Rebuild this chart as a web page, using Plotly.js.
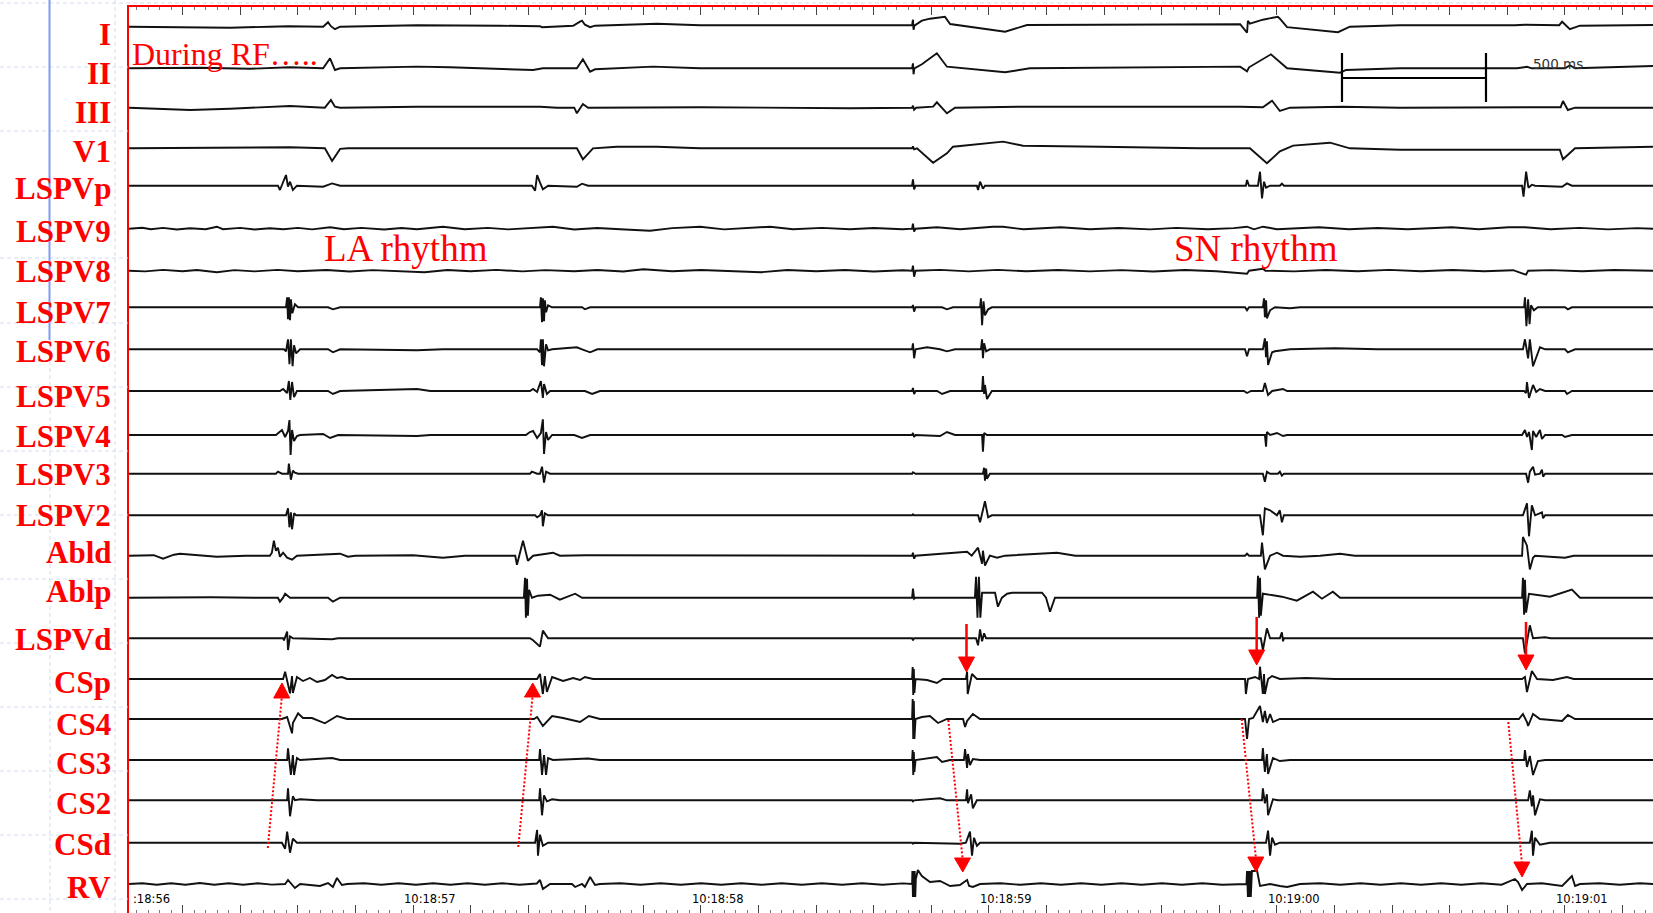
<!DOCTYPE html>
<html><head><meta charset="utf-8">
<script src="https://cdn.plot.ly/plotly-3.0.1.min.js"></script>
<style>html,body{margin:0;padding:0;background:#fff;overflow:hidden}#chart{width:1653px;height:913px}</style>
</head><body><div id="chart"></div>
<script>
// ---------------- DATA (time in s after 10:18:56, amplitude in display units) ----------------
const channelNames = ["I","II","III","V1","LSPVp","LSPV9","LSPV8","LSPV7","LSPV6","LSPV5","LSPV4","LSPV3","LSPV2","Abld","Ablp","LSPVd","CSp","CS4","CS3","CS2","CSd","RV"];

const sig_I = [0.014,0, 0.226,-0.5, 0.365,-1, 0.503,0, 0.566,0.5, 0.688,0, 0.705,4.5, 0.715,0.5, 0.729,-2.5, 0.747,0, 1.014,1.5, 1.302,1, 1.441,0.5, 1.448,-0.5, 1.556,1, 1.580,5, 1.587,6, 1.597,2, 1.615,-0.5, 1.632,1, 1.847,3, 1.997,1.5, 2.517,1.5, 2.733,1.5, 2.736,7, 2.738,-3, 2.741,1, 2.767,6, 2.795,8, 2.847,10, 2.865,2.7, 3.056,-5, 3.132,1.7, 3.385,2, 3.872,2.5, 3.896,-6, 3.899,6, 3.906,3, 3.951,7, 4.003,10, 4.010,8, 4.035,-0.5, 4.212,-5.5, 4.253,0, 4.427,1.5, 4.826,1.5, 4.861,2, 4.980,1.5, 4.990,5, 5.017,-2.5, 5.052,1, 5.306,1.7];
const sig_II = [0.014,0, 0.260,0.5, 0.434,-0.5, 0.573,1, 0.688,0, 0.712,10, 0.729,-1.7, 0.747,0, 1.014,1.7, 1.128,1, 1.417,-1.7, 1.451,0, 1.569,0, 1.590,9, 1.615,-3.4, 1.632,-1, 1.833,1.7, 1.997,0, 2.517,0, 2.733,0, 2.736,5, 2.738,-6, 2.741,0, 2.767,4, 2.819,15, 2.854,1.6, 3.056,-4, 3.142,0, 3.872,1.7, 3.896,-3, 3.903,1, 3.979,14, 4.035,0, 4.219,-4.4, 4.240,-1.7, 4.427,0, 4.833,0, 4.868,1.5, 4.885,0, 5.000,0, 5.017,3, 5.035,0, 5.306,2.3];
const sig_III = [0.014,0, 0.226,-2.3, 0.365,-1, 0.573,1.7, 0.694,0, 0.715,7.7, 0.729,1, 0.747,0, 1.014,1, 1.441,1, 1.500,0, 1.560,0, 1.569,-5.6, 1.590,3.7, 1.608,0, 1.997,0.5, 2.517,-0.6, 2.733,0, 2.736,2, 2.740,-2, 2.747,0, 2.806,1, 2.819,5.4, 2.854,-5.6, 2.882,0, 3.118,1, 3.872,1, 3.951,0.5, 3.983,7, 4.010,-3.3, 4.045,0, 4.226,1, 4.427,0, 4.868,0.5, 4.985,0.5, 4.993,6.7, 5.010,-2.3, 5.035,0, 5.306,0];
const sig_V1 = [0.014,0, 0.365,0.5, 0.573,1, 0.694,0, 0.719,-12.7, 0.747,-0.6, 0.774,0, 1.441,0, 1.569,0, 1.590,-11, 1.625,0, 1.708,1.6, 1.847,1.6, 1.997,0, 2.733,0, 2.736,2, 2.740,-1, 2.750,0, 2.806,-14.4, 2.854,-5, 2.875,1.6, 3.049,6.7, 3.118,2.6, 3.385,1.6, 3.733,0, 3.906,0, 3.965,-15, 4.010,-3, 4.056,2.7, 4.184,5.6, 4.253,0, 4.427,-1.5, 4.826,-1.6, 4.868,-1, 4.982,-1.5, 4.993,-11, 5.035,0, 5.306,1.6];
const sig_LSPVp = [0.014,0, 0.434,0, 0.531,0, 0.538,-4.3, 0.559,10.7, 0.566,-1, 0.573,4, 0.583,-4.3, 0.597,0, 0.688,-1, 0.719,2.3, 0.747,0, 1.413,0, 1.424,-5, 1.431,10.7, 1.441,3, 1.451,-3.6, 1.469,0, 1.569,-1, 1.587,2, 1.608,0, 2.733,0, 2.736,6.4, 2.740,-3.6, 2.745,0, 2.958,0, 2.962,-4.3, 2.969,4, 2.979,-3, 2.986,0, 3.872,0, 3.892,0, 3.896,5.7, 3.903,0, 3.934,0, 3.941,14, 3.948,-12.7, 3.955,4, 3.962,-2, 3.976,0, 4.010,0, 4.017,2, 4.024,0, 4.851,0, 4.856,-11, 4.865,14, 4.873,-2, 4.885,1, 4.896,0, 4.990,-1, 5.007,2.3, 5.024,0, 5.306,0];
const sig_LSPV9 = [0.014,0, 0.060,1, 0.090,-0.5, 0.132,0.8, 0.180,-0.8, 0.226,0.5, 0.280,-0.5, 0.319,2, 0.340,-0.5, 0.400,0.8, 0.450,-0.8, 0.503,0.5, 0.550,-0.5, 0.600,0.8, 0.650,-0.7, 0.712,1.5, 0.760,-0.6, 0.820,0.8, 0.900,-0.8, 0.960,0.7, 1.014,-0.5, 1.104,2, 1.180,-0.6, 1.260,0.8, 1.330,-0.7, 1.400,0.6, 1.486,2, 1.560,-0.8, 1.640,0.7, 1.720,-0.6, 1.823,-2, 1.900,0.6, 1.997,2, 2.080,-0.7, 2.150,0.8, 2.240,2, 2.320,-0.6, 2.420,0.8, 2.517,-0.6, 2.600,0.7, 2.700,-0.5, 2.733,0, 2.736,5, 2.740,-3, 2.745,0, 2.819,1.5, 2.900,-0.6, 3.014,2, 3.049,2, 3.120,-0.6, 3.250,1.5, 3.350,-0.6, 3.450,0.7, 3.560,-0.7, 3.650,0.8, 3.760,-0.6, 3.850,0.6, 3.896,2, 3.920,-0.6, 3.951,2, 4.000,-0.5, 4.146,1.5, 4.250,-0.6, 4.350,0.7, 4.454,-0.6, 4.607,1.5, 4.700,-0.6, 4.804,1.5, 4.861,1.5, 4.950,-0.6, 5.050,0.8, 5.150,-0.7, 5.250,0.6, 5.306,0];
const sig_LSPV8 = [0.014,0, 0.070,-0.7, 0.132,0.8, 0.200,-0.6, 0.250,0.7, 0.319,-1.5, 0.380,0.6, 0.450,-0.7, 0.530,0.8, 0.600,-0.6, 0.700,0.7, 0.780,-0.8, 0.860,0.6, 0.950,-0.6, 1.040,-1.5, 1.120,0.7, 1.200,-0.6, 1.290,0.8, 1.380,-0.7, 1.460,0.6, 1.560,-0.6, 1.640,0.7, 1.730,-0.8, 1.800,1.5, 1.900,-0.6, 2.000,0.7, 2.100,-0.6, 2.209,-1.5, 2.300,0.7, 2.400,-0.6, 2.500,0.7, 2.600,-0.8, 2.700,0.5, 2.733,0, 2.736,5, 2.740,-6, 2.745,0, 2.830,0.8, 2.930,-0.7, 3.030,0.8, 3.130,-0.6, 3.240,0.7, 3.350,-0.7, 3.460,0.6, 3.570,-0.8, 3.680,0.7, 3.790,-0.6, 3.896,-3, 3.903,0, 3.951,2, 3.960,0, 4.060,-0.7, 4.170,0.7, 4.280,-0.6, 4.390,0.8, 4.500,-0.6, 4.610,0.7, 4.720,-0.6, 4.820,0.5, 4.865,-4, 4.872,0, 4.950,0.6, 5.060,-0.6, 5.170,0.7, 5.306,0];
const sig_LSPV7 = [0.014,0, 0.434,0, 0.559,0, 0.563,10, 0.566,-12, 0.569,10, 0.573,-13, 0.576,8, 0.581,-6, 0.590,3, 0.601,0, 0.705,0, 0.722,-2, 0.747,0, 1.441,0, 1.444,10, 1.448,-15, 1.451,9, 1.455,-14, 1.458,7, 1.462,-5, 1.469,2, 1.483,0, 1.587,0, 1.597,-2, 1.615,0, 2.733,0, 2.736,2.3, 2.740,-4.3, 2.745,0, 2.837,0, 2.854,-2, 2.875,0, 2.969,0, 2.972,9, 2.976,-18, 2.981,6, 2.986,-8, 2.997,-2, 3.010,0, 3.889,0, 3.896,-3, 3.903,0, 3.951,0, 3.955,9, 3.958,-10, 3.962,7, 3.965,-11, 3.976,-3, 3.993,0, 4.045,-1, 4.080,0, 4.858,0, 4.861,10, 4.866,-19, 4.872,8, 4.877,-17, 4.882,2, 4.892,-3, 4.906,0, 5.000,0, 5.010,-2, 5.024,0, 5.306,0];
const sig_LSPV6 = [0.014,0, 0.300,0.5, 0.434,0, 0.552,0, 0.559,-2, 0.566,10, 0.571,-15, 0.576,10, 0.582,-17, 0.587,4, 0.594,-4, 0.608,0, 0.705,0, 0.722,-3, 0.747,0, 1.014,-1, 1.104,0, 1.431,0, 1.441,-3, 1.444,10, 1.448,-16, 1.451,10, 1.455,-17, 1.462,5, 1.469,-1, 1.483,0, 1.569,2, 1.587,0, 1.615,-3, 1.640,0, 2.733,0, 2.736,6, 2.740,-9, 2.745,0, 2.785,2, 2.830,0, 2.854,-2, 2.882,0, 2.972,0, 2.976,10, 2.979,-9, 2.983,6, 2.990,-2, 3.003,0, 3.889,0, 3.896,-7, 3.903,0, 3.951,0, 3.958,11, 3.962,-8, 3.965,8, 3.969,-15.7, 3.983,-3, 3.993,-2, 4.045,0, 4.200,1, 4.350,0, 4.854,0, 4.861,10, 4.872,-9, 4.878,10, 4.889,-17, 4.913,2, 4.931,0, 5.000,0, 5.010,-3, 5.035,0, 5.306,0];
const sig_LSPV5 = [0.014,0, 0.400,0.5, 0.538,0, 0.549,2, 0.563,-2, 0.569,10, 0.574,-9, 0.580,9, 0.587,-6, 0.597,0, 0.705,0, 0.722,-3, 0.747,0, 1.014,2, 1.060,0, 1.406,0, 1.417,2, 1.431,-1, 1.444,10, 1.451,-7, 1.455,7, 1.465,-3, 1.476,0, 1.597,0, 1.622,-3, 1.649,0, 2.733,0, 2.736,3, 2.740,-3, 2.745,0, 2.820,0, 2.837,-3, 2.865,0, 2.976,0, 2.979,15, 2.983,-3, 2.986,6, 2.993,-8, 3.010,0, 3.885,0, 3.896,-2, 3.910,0, 3.951,0, 3.958,8, 3.969,-4, 3.983,0, 4.021,2, 4.035,0, 4.858,0, 4.865,-2, 4.868,9, 4.875,-7, 4.889,6, 4.900,-1, 4.913,2, 4.931,0, 5.000,0, 5.007,-3, 5.024,0, 5.306,0];
const sig_LSPV4 = [0.014,0, 0.300,0.5, 0.434,0, 0.524,0, 0.535,3, 0.545,5, 0.556,-2, 0.566,4, 0.571,15, 0.575,-20, 0.580,5, 0.587,-6, 0.597,-1, 0.608,0, 0.688,1, 0.712,-3, 0.740,0, 1.014,-1, 1.060,0, 1.392,0, 1.406,3, 1.417,4, 1.431,-3, 1.444,2, 1.451,15.7, 1.455,-19, 1.462,3, 1.469,-5, 1.483,0, 1.560,0, 1.587,-3, 1.615,0, 2.733,0, 2.736,2, 2.740,-2, 2.745,0, 2.830,-1, 2.854,3, 2.882,0, 2.976,0, 2.979,-16.7, 2.983,2, 2.993,0, 3.885,0, 3.958,0, 3.962,-11.7, 3.965,3, 3.976,0, 4.000,2, 4.021,-1, 4.035,0, 4.851,0, 4.861,5, 4.868,-2, 4.875,3, 4.885,-15, 4.889,4, 4.900,-2, 4.913,5, 4.920,-4, 4.931,0, 4.990,0, 5.000,-2, 5.024,0, 5.306,0];
const sig_LSPV3 = [0.014,0, 0.524,0, 0.531,2, 0.545,0, 0.566,0, 0.569,10, 0.576,-6, 0.583,3, 0.590,1, 0.601,0, 1.406,0, 1.413,2, 1.431,0, 1.441,0, 1.448,7, 1.455,-9, 1.462,2, 1.476,0, 2.733,0, 2.736,1.5, 2.745,0, 2.979,0, 2.983,6, 2.986,-7, 2.990,5, 2.993,-5, 3.003,0, 3.951,0, 3.958,-8, 3.965,2, 3.976,0, 4.003,0, 4.010,2, 4.017,-2, 4.024,0, 4.865,0, 4.872,-9, 4.878,2, 4.889,7, 4.896,-1, 4.913,0, 4.920,4, 4.924,-3, 4.931,0, 5.306,0];
const sig_LSPV2 = [0.014,0, 0.559,0, 0.566,7, 0.571,-12, 0.576,3, 0.580,-14, 0.587,2, 0.594,0, 1.424,0, 1.431,-2, 1.441,0, 1.448,5, 1.451,-11, 1.458,2, 1.469,0, 2.733,0, 2.736,1, 2.740,0, 2.962,0, 2.969,-7, 2.986,14, 2.997,-2, 3.010,0, 3.941,0, 3.951,-20, 3.958,7, 3.976,5, 4.000,0, 4.010,5, 4.017,-7, 4.024,0, 4.854,0, 4.868,12, 4.875,-21, 4.885,10, 4.896,0, 4.920,3, 4.924,-3, 4.931,0, 5.306,0];
const sig_Abld = [0.014,0, 0.100,0.5, 0.132,-3, 0.170,1, 0.191,2, 0.260,0.5, 0.319,-1, 0.420,0, 0.503,0, 0.510,3, 0.517,15, 0.524,5, 0.531,8, 0.538,-1, 0.549,3, 0.563,-2, 0.580,-4, 0.597,0, 0.747,2, 0.774,-1, 0.800,0, 1.000,0.5, 1.104,-2, 1.180,0, 1.355,0, 1.361,-9, 1.382,15, 1.399,-5, 1.417,0, 1.486,3, 1.510,0, 1.600,0.5, 2.733,0, 2.736,3, 2.740,-3, 2.745,0, 2.924,4, 2.940,0, 2.962,8, 2.976,-8, 2.979,5, 2.986,-10, 3.003,0, 3.028,-2, 3.056,0, 3.236,3, 3.300,0, 3.889,0, 3.896,2, 3.903,0, 3.944,0, 3.948,13, 3.958,-13.7, 3.976,0, 4.000,3, 4.021,0, 4.080,-1, 4.150,0, 4.219,2, 4.270,0, 4.851,0, 4.854,18.7, 4.868,10, 4.878,-13.7, 4.889,-2, 4.896,0, 5.000,-2, 5.030,0, 5.306,0];
const sig_Ablp = [0.014,0, 0.300,0.5, 0.450,0, 0.531,0, 0.538,-4, 0.549,0, 0.556,4, 0.573,0, 0.705,0, 0.722,-4, 0.747,0, 1.300,0, 1.385,0, 1.389,20, 1.392,-20, 1.396,19, 1.399,-18, 1.403,8, 1.413,0, 1.434,2, 1.476,3, 1.510,-2, 1.563,4, 1.587,0, 2.733,0, 2.736,9, 2.740,-1, 2.745,0, 2.951,0, 2.955,21, 2.960,-20, 2.965,21, 2.970,-20, 2.976,5, 3.021,5, 3.031,-9, 3.045,0, 3.063,4, 3.080,5, 3.184,5, 3.198,0, 3.212,-14, 3.229,0, 3.872,0, 3.931,0, 3.934,22, 3.938,-20, 3.941,20, 3.944,-18, 3.951,4, 3.969,3, 4.017,1, 4.069,-3, 4.125,6, 4.156,-1, 4.194,6, 4.219,0, 4.851,0, 4.854,20, 4.858,-17, 4.861,18, 4.865,-15, 4.875,4, 4.948,1, 5.024,8, 5.052,0, 5.306,0];
const sig_LSPVd = [0.014,0, 0.549,0, 0.552,-2, 0.563,6.7, 0.566,-11.7, 0.573,2, 0.583,0, 0.719,-1, 0.740,0, 1.406,0, 1.417,-2, 1.441,-8.3, 1.451,7.7, 1.469,0, 2.733,0, 2.736,-2, 2.740,0, 2.955,0, 2.962,-7, 2.969,9, 2.976,-3, 2.983,5, 2.990,0, 3.944,0, 3.951,-11.7, 3.965,10, 3.976,0, 4.010,0, 4.017,6, 4.021,-3, 4.024,0, 4.854,0, 4.861,-15, 4.878,13, 4.889,0, 4.931,1, 4.950,0, 5.306,0];
const sig_CSp = [0.014,0, 0.549,0, 0.556,7.3, 0.573,-14.3, 0.580,3, 0.583,-14, 0.597,2, 0.618,-2, 0.642,1, 0.667,-3, 0.694,-1, 0.719,4, 0.736,1, 0.753,2, 0.771,0, 1.431,0, 1.441,5, 1.451,-15, 1.458,3, 1.465,-13, 1.483,2, 1.521,-2, 1.556,1, 1.580,-1, 1.597,2, 1.625,0, 2.733,0, 2.735,12, 2.737,-16, 2.739,10, 2.741,-14, 2.745,0, 2.785,-1, 2.819,-4, 2.840,0, 2.920,0, 2.924,7.3, 2.926,-15, 2.941,5, 2.958,0, 3.889,0, 3.892,-15, 3.899,0, 3.924,2, 3.938,0, 3.941,12.3, 3.951,-15, 3.955,5, 3.958,-15, 3.969,0, 3.983,3, 4.010,0, 4.100,1, 4.200,0, 4.851,0, 4.861,2, 4.868,-13, 4.885,8, 4.903,0, 4.958,-1, 5.007,2, 5.030,0, 5.306,0];
const sig_CS4 = [0.014,0, 0.400,0.5, 0.545,0, 0.563,2, 0.580,-14.3, 0.583,-4, 0.601,5.7, 0.618,1, 0.649,1, 0.694,-4.3, 0.736,3, 0.771,0, 1.420,0, 1.431,2, 1.451,-7, 1.483,3, 1.521,1, 1.580,-3, 1.611,3, 1.649,0, 2.733,0, 2.735,20, 2.737,-20, 2.739,18, 2.741,-20, 2.745,0, 2.767,2, 2.795,3, 2.823,-4, 2.854,0, 2.910,0, 2.917,-8, 2.924,-2, 2.944,5, 2.969,0, 3.889,0, 3.896,-20, 3.903,0, 3.917,1, 3.941,13, 3.951,-3, 3.958,8, 3.965,-4, 3.976,5, 3.986,-3, 4.010,0, 4.840,0, 4.854,5, 4.868,-3, 4.872,-7, 4.889,5, 4.913,0, 4.990,-2, 5.010,4, 5.035,0, 5.306,0];
const sig_CS3 = [0.014,0, 0.563,0, 0.566,11.7, 0.576,-15, 0.583,5, 0.587,-15, 0.597,2, 0.608,0, 0.719,2, 0.747,0, 1.438,0, 1.441,11, 1.448,-15, 1.455,5, 1.462,-15, 1.469,2, 1.486,0, 1.608,1.5, 1.649,0, 2.733,0, 2.735,10, 2.737,-15, 2.739,8, 2.741,-12, 2.745,0, 2.819,3, 2.837,-2, 2.865,0, 2.913,0, 2.917,11, 2.924,-8, 2.927,6, 2.934,-5, 2.944,1, 2.969,0, 3.948,0, 3.951,12, 3.958,-12, 3.965,6, 3.969,-14, 3.986,2, 4.010,-1, 4.045,0, 4.858,0, 4.861,10, 4.868,-7, 4.878,4, 4.889,-15, 4.906,-1, 4.931,0, 5.306,0];
const sig_CS2 = [0.014,0, 0.563,0, 0.566,12, 0.573,-16, 0.583,4, 0.590,0, 0.608,1, 0.667,0, 1.438,0, 1.441,12, 1.448,-15, 1.455,5, 1.465,-1, 1.483,1, 1.510,0, 2.733,0, 2.736,-1, 2.740,0, 2.830,2, 2.854,0, 2.920,0, 2.924,11, 2.927,-3, 2.938,6, 2.944,-8, 2.958,0, 3.948,0, 3.951,12, 3.958,-3, 3.965,6, 3.969,-15, 3.986,1, 4.003,0, 4.872,0, 4.878,10, 4.885,-6, 4.889,5, 4.896,-15, 4.913,1, 4.931,0, 5.306,0];
const sig_CSd = [0.014,0, 0.545,0, 0.556,-6, 0.563,11, 0.573,-10, 0.583,4, 0.597,0, 1.424,0, 1.431,12.7, 1.434,-13, 1.441,8, 1.451,-3, 1.469,0, 2.733,0, 2.736,-1, 2.740,0, 2.899,-1, 2.920,0, 2.934,11, 2.941,-13, 2.948,5, 2.958,-3, 2.969,0, 3.962,0, 3.969,12, 3.976,-13, 3.983,5, 3.993,-2, 4.010,0, 4.878,0, 4.885,12, 4.889,-13, 4.896,5, 4.913,-2, 4.948,0, 5.306,0];
const sig_RV = [0.014,0, 0.060,0.8, 0.110,-0.8, 0.160,0.7, 0.210,-0.7, 0.260,1, 0.310,-0.8, 0.360,0.8, 0.410,-0.8, 0.460,0.7, 0.510,-0.6, 0.556,0, 0.566,4, 0.590,-4, 0.608,0, 0.677,-2, 0.705,1, 0.722,-3, 0.736,6, 0.753,-1, 0.771,0, 0.830,0.8, 0.890,-0.8, 0.950,0.7, 1.010,-0.7, 1.070,0.8, 1.130,-0.8, 1.190,0.7, 1.250,-0.7, 1.310,0.8, 1.370,-0.8, 1.430,0.5, 1.441,4, 1.451,-5, 1.476,0, 1.552,0, 1.563,-3, 1.587,0, 1.597,-3, 1.615,7, 1.632,-1, 1.649,0, 1.720,0.8, 1.790,-0.8, 1.860,0.8, 1.930,-0.7, 2.000,0.8, 2.070,-0.8, 2.140,0.7, 2.210,-0.8, 2.280,0.8, 2.350,-0.7, 2.420,0.8, 2.490,-0.8, 2.560,0.7, 2.630,-0.7, 2.700,0.6, 2.733,0, 2.734,13, 2.736,-13, 2.738,13, 2.740,-13, 2.742,13, 2.744,-13, 2.746,5, 2.753,14, 2.767,8, 2.795,2, 2.830,3, 2.865,-2, 2.899,-1, 2.924,4, 2.931,-2, 2.944,-3, 2.969,0, 3.040,0.8, 3.110,-0.8, 3.180,0.8, 3.250,-0.7, 3.320,0.8, 3.390,-0.8, 3.460,0.7, 3.530,-0.8, 3.600,0.8, 3.670,-0.7, 3.740,0.8, 3.810,-0.7, 3.880,0.5, 3.894,0, 3.896,13, 3.899,-13, 3.901,13, 3.904,-13, 3.906,13, 3.909,-13, 3.913,13, 3.931,13, 3.941,-2, 3.976,0, 4.010,-2, 4.035,-3, 4.080,0, 4.150,0.8, 4.220,-0.8, 4.290,0.8, 4.360,-0.7, 4.430,0.8, 4.500,-0.8, 4.570,0.7, 4.640,-0.8, 4.710,0.8, 4.780,-0.7, 4.826,5, 4.837,2, 4.851,-6, 4.868,0, 4.920,0.8, 4.990,-2, 5.024,8, 5.035,-2, 5.052,0, 5.120,0.8, 5.190,-0.8, 5.260,0.7, 5.306,0];

const timeTickSec = [0, 1, 2, 3, 4, 5];
const timeTickText = [":18:56", "10:18:57", "10:18:58", "10:18:59", "10:19:00", "10:19:01"];
const scaleBarMs = 500;
const scaleBarText = "500 ms";
const noteText = "During RF\u2026..";
const rhythmTexts = ["LA rhythm", "SN rhythm"];

// ---------------- LAYOUT CONSTANTS ----------------
const W = 1653, H = 913;
const plotLeftPx = 129, plotTopPx = 7;
const xRange = [0.0139, 5.3056];
const baselinePx = [26.7,68.3,107.7,148.3,185.7,228.7,270.7,307.3,349.3,391,435,473.7,515.3,555.7,597.7,638.3,679,719,760,800.3,842.7,884];
const labelCenterPx = [34,73,112,151,189,231,271,312,351,396,436,474,515,552,591,639,682,724,763,803,844,887];
const labelRightPx = 112;
const px = p => p / W;
const py = p => 1 - p / H;
const RED = '#ff0000';

const signals = [sig_I, sig_II, sig_III, sig_V1, sig_LSPVp, sig_LSPV9, sig_LSPV8, sig_LSPV7, sig_LSPV6, sig_LSPV5, sig_LSPV4, sig_LSPV3, sig_LSPV2, sig_Abld, sig_Ablp, sig_LSPVd, sig_CSp, sig_CS4, sig_CS3, sig_CS2, sig_CSd, sig_RV];

const traces = signals.map((s, i) => {
  const x = [], y = [];
  for (let k = 0; k < s.length; k += 2) { x.push(s[k]); y.push(s[k + 1] - baselinePx[i]); }
  return {type: 'scatter', mode: 'lines', x, y, name: channelNames[i], line: {color: '#111', width: 1.9}, hoverinfo: 'skip', showlegend: false};
});

// 500 ms calibration bar (drawn on top x-axis, same scale)
const barT0 = 4.2257, barS = scaleBarMs / 1000;
traces.push({type: 'scatter', mode: 'lines', xaxis: 'x2', yaxis: 'y',
  x: [barT0, barT0, null, barT0, barT0 + barS, null, barT0 + barS, barT0 + barS],
  y: [-53, -102, null, -78, -78, null, -53, -102],
  line: {color: '#000', width: 2.2}, hoverinfo: 'skip', showlegend: false});

const annotations = [];
channelNames.forEach((n, i) => annotations.push({
  xref: 'paper', yref: 'paper', x: px(labelRightPx), y: py(labelCenterPx[i]), xanchor: 'right', yanchor: 'middle',
  text: n, showarrow: false, borderpad: 0,
  font: {family: 'Liberation Serif, Times New Roman, serif', size: 31, color: RED, weight: 'bold'}
}));
annotations.push({xref: 'paper', yref: 'paper', x: px(131), y: py(54), xanchor: 'left', yanchor: 'middle', text: noteText, showarrow: false, borderpad: 0,
  font: {family: 'Liberation Serif, serif', size: 32, color: RED}});
annotations.push({xref: 'paper', yref: 'paper', x: px(323), y: py(249), xanchor: 'left', yanchor: 'middle', text: rhythmTexts[0], showarrow: false, borderpad: 0,
  font: {family: 'Liberation Serif, serif', size: 37, color: RED}});
annotations.push({xref: 'paper', yref: 'paper', x: px(1173), y: py(249), xanchor: 'left', yanchor: 'middle', text: rhythmTexts[1], showarrow: false, borderpad: 0,
  font: {family: 'Liberation Serif, serif', size: 37, color: RED}});
annotations.push({xref: 'x2', yref: 'paper', x: barT0 + barS, y: py(64), xanchor: 'left', yanchor: 'middle', xshift: 46, text: scaleBarText, showarrow: false, borderpad: 0,
  font: {family: 'DejaVu Sans, sans-serif', size: 13.5, color: '#333'}});
timeTickSec.forEach((s, i) => annotations.push({
  xref: 'x', yref: 'paper', x: Math.max(s, xRange[0]), y: py(899), xanchor: 'left', yanchor: 'middle',
  xshift: s < xRange[0] ? 3 : -10, text: timeTickText[i], showarrow: false, borderpad: 0,
  font: {family: 'DejaVu Sans, sans-serif', size: 11.5, color: '#000'}
}));

// ---------------- SHAPES (guides, markers) ----------------
const shapes = [];
const guideStyle = {color: '#d3dcf2', width: 1, dash: '4px,3px'};
[3, 67, 131, 258, 323, 387, 451, 515, 579, 643, 707, 771, 835, 899].forEach(g => shapes.push({type: 'line', xref: 'paper', yref: 'paper', x0: 0, x1: px(g === 3 ? W : plotLeftPx - 1), y0: py(g), y1: py(g), line: guideStyle}));
shapes.push({type: 'line', xref: 'paper', yref: 'paper', x0: px(115), x1: px(115), y0: 1, y1: 0, line: guideStyle});
shapes.push({type: 'line', xref: 'paper', yref: 'paper', x0: px(50), x1: px(50), y0: py(340), y1: 0, line: guideStyle});
shapes.push({type: 'line', xref: 'paper', yref: 'paper', x0: px(49.5), x1: px(49.5), y0: 1, y1: py(340), line: {color: '#7f9cf2', width: 2}});

const headHalf = 8 / 288;
const solidArrows = [[2.9219, 624, 657, 672], [3.9294, 617, 650, 665], [4.8646, 622, 655, 670]];
solidArrows.forEach(([t, top, base, tip]) => {
  shapes.push({type: 'line', xref: 'x', yref: 'y', x0: t, x1: t, y0: -top, y1: -base - 1, line: {color: RED, width: 2.5}});
  shapes.push({type: 'path', xref: 'x', yref: 'y', path: `M${t - headHalf},${-base} L${t + headHalf},${-base} L${t},${-tip} Z`, fillcolor: RED, line: {color: RED, width: 1}});
});
const dottedArrows = [[0.4958, 848, 0.5441, 698, 683], [1.3656, 847, 1.4149, 697, 683], [2.8587, 720, 2.9080, 858, 872], [3.8773, 719, 3.9264, 857, 872], [4.8031, 722, 4.8500, 862, 877]];
dottedArrows.forEach(([t0, y0, t1, base, tip]) => {
  shapes.push({type: 'line', xref: 'x', yref: 'y', x0: t0, x1: t1, y0: -y0, y1: -base, line: {color: RED, width: 2, dash: '2px,2px'}});
  shapes.push({type: 'path', xref: 'x', yref: 'y', path: `M${t1 - headHalf},${-base} L${t1 + headHalf},${-base} L${t1 + 0.001},${-tip} Z`, fillcolor: RED, line: {color: RED, width: 1}});
});

const tickCommon = {tick0: 0, dtick: 0.2, ticks: 'inside', ticklen: 8, tickwidth: 1, tickcolor: '#444', showticklabels: false, showgrid: false, zeroline: false,
  minor: {dtick: 0.04, ticks: 'inside', ticklen: 3, tickwidth: 1, tickcolor: '#777', showgrid: false}};

const layout = {
  width: W, height: H, margin: {l: 0, r: 0, t: 0, b: 0, pad: 0},
  paper_bgcolor: '#fff', plot_bgcolor: '#fff', showlegend: false, hovermode: false,
  xaxis: Object.assign({domain: [px(plotLeftPx), 1], range: xRange, showline: false, fixedrange: true}, tickCommon),
  xaxis2: Object.assign({overlaying: 'x', side: 'top', anchor: 'y', matches: 'x', range: xRange, showline: true, linecolor: RED, linewidth: 2}, tickCommon),
  yaxis: {domain: [0, 1 - plotTopPx / H], range: [-H, -plotTopPx], showline: true, linecolor: RED, linewidth: 2, ticks: '', showticklabels: false, showgrid: false, zeroline: false, fixedrange: true},
  annotations, shapes
};

Plotly.newPlot('chart', traces, layout, {staticPlot: true, displayModeBar: false});
</script></body></html>
